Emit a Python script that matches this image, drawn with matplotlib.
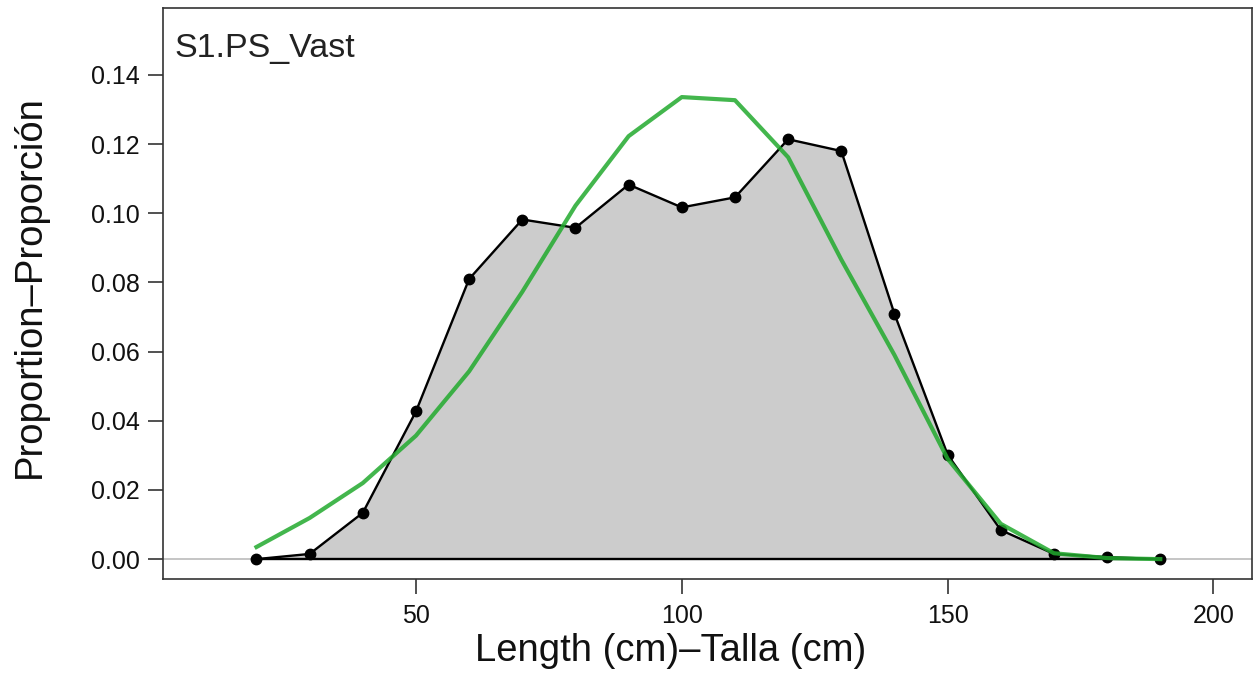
import numpy as np
import matplotlib
matplotlib.use("Agg")
import matplotlib.pyplot as plt

plt.rcParams['font.family'] = ['Liberation Sans', 'DejaVu Sans']

# length bins (cm)
lengths = [20, 30, 40, 50, 60, 70, 80, 90, 100, 110, 120, 130, 140, 150, 160, 170, 180, 190]

# observed proportions
observed = [0.0000, 0.0015, 0.0134, 0.0427, 0.0810, 0.0982, 0.0958, 0.1083, 0.1017, 0.1046,
            0.1214, 0.1180, 0.0709, 0.0302, 0.0084, 0.0015, 0.0006, 0.0000]

# expected (model fit)
expected = [0.0035, 0.0119, 0.0220, 0.0357, 0.0543, 0.0773, 0.1022, 0.1223, 0.1336, 0.1327,
            0.1162, 0.0866, 0.0590, 0.0290, 0.0102, 0.0017, 0.0003, 0.0000]

panel_label = "S1.PS_Vast"
x_ticks = [50, 100, 150, 200]
y_ticks = [0.00, 0.02, 0.04, 0.06, 0.08, 0.10, 0.12, 0.14]

fig = plt.figure(figsize=(12.53, 6.83), dpi=100)
ax = fig.add_axes([0.130, 0.152, 0.869, 0.836])

text_col = '#111111'

# zero line across the panel
ax.axhline(0, color='#bbbbbb', lw=1.2, zorder=1)

# observed as shaded polygon
xs = np.array(lengths, dtype=float)
ys = np.array(observed)
ax.fill(np.concatenate([xs, xs[::-1]]), np.concatenate([ys, np.zeros_like(ys)]),
        facecolor='#cccccc', edgecolor='none', zorder=2)
ax.plot([xs[0], xs[-1]], [0, 0], color='black', lw=1.7, zorder=3)
ax.plot(xs, ys, color='black', lw=1.7, marker='o', markersize=7.5, zorder=4)

# expected
ax.plot(lengths, expected, color='#22aa2e', lw=3, alpha=0.85, zorder=5)

ax.set_xlim(2.4, 207.2)
ax.set_ylim(-0.0058, 0.1593)
ax.set_xticks(x_ticks)
ax.set_yticks(y_ticks)
ax.set_yticklabels([f"{v:.2f}" for v in y_ticks])

for s in ax.spines.values():
    s.set_color('#333333')
    s.set_linewidth(1.2)
ax.tick_params(direction='out', length=11, width=1.2, color='#333333',
               labelsize=18, labelcolor=text_col, pad=5.5)
ax.tick_params(axis='x', pad=7)

ax.set_xlabel("Length (cm)\u2013Talla (cm)", fontsize=27.5, color=text_col)
ax.set_ylabel("Proportion\u2013Proporci\u00f3n", fontsize=27.5, color=text_col)
ax.xaxis.set_label_coords(0.466, -0.094)
ax.yaxis.set_label_coords(-0.106, 0.513)

ax.text(0.011, 0.929, panel_label, transform=ax.transAxes, fontsize=24.5,
        color='#222222', va='center', ha='left')

fig.savefig("out.png", dpi=100)
